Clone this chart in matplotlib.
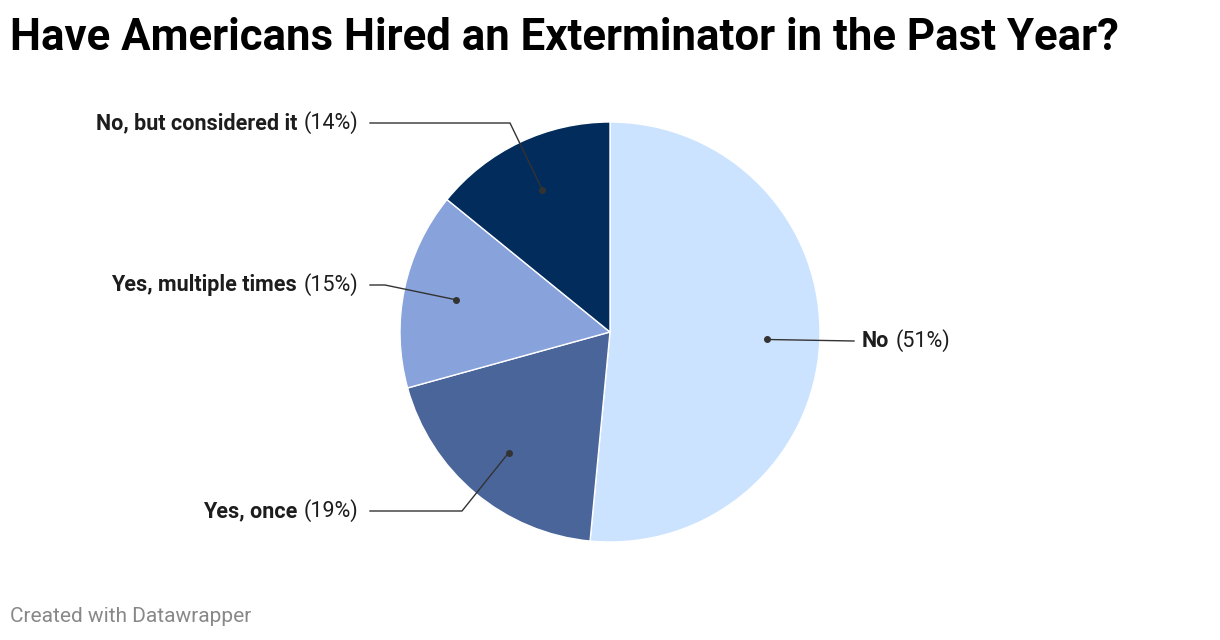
import matplotlib
matplotlib.use("Agg")
import matplotlib.pyplot as plt
import numpy as np

labels = ["No", "Yes, once", "Yes, multiple times", "No, but considered it"]
values = [51, 19, 15, 14]
colors = ["#cce3ff", "#4a6599", "#88a2db", "#012c5b"]

# label anchor points (pixel layout, y from top)
label_pos = [(862, 341), (358, 511), (358, 285), (358, 123)]
elbow = [None, (462, 511), (385, 285), (510, 123)]

plt.rcParams['font.family'] = ['Roboto', 'DejaVu Sans']
fig = plt.figure(figsize=(12.2, 6.4), dpi=100)
ax = fig.add_axes([0, 0, 1, 1])

H = 640
cx, cy, R = 610, H - 332, 210
ax.pie(values, colors=colors, startangle=90, counterclock=False,
       center=(cx, cy), radius=R, frame=True,
       wedgeprops=dict(edgecolor='white', linewidth=1))
ax.set_xlim(0, 1220)
ax.set_ylim(0, 640)
ax.set_aspect('equal')
ax.axis('off')

renderer = fig.canvas.get_renderer()
fs = 15.5
total = sum(values)
start = 90
for i, (lab, v) in enumerate(zip(labels, values)):
    mid = start - v / total * 360 / 2
    start -= v / total * 360
    r = 0.75 * R
    dx, dy = cx + r * np.cos(np.radians(mid)), cy + r * np.sin(np.radians(mid))
    ax.plot(dx, dy, 'o', color='#333333', ms=4, zorder=5)
    tx, ty = label_pos[i]
    pct = "(%d%%)" % v
    if elbow[i] is None:
        ax.plot([dx, tx - 8], [dy, H - ty], color='#333333', lw=1, zorder=4)
        t = ax.text(tx, H - ty, lab, fontsize=fs, fontweight='bold', color='#1d1d1d',
                    ha='left', va='center')
        w = t.get_window_extent(renderer).width
        ax.text(tx + w + 6, H - ty, pct, fontsize=fs, color='#1d1d1d',
                ha='left', va='center')
    else:
        ex, ey = elbow[i]
        ax.plot([dx, ex, tx + 12], [dy, H - ey, H - ty], color='#333333', lw=1, zorder=4)
        t = ax.text(tx, H - ty, pct, fontsize=fs, color='#1d1d1d',
                    ha='right', va='center')
        w = t.get_window_extent(renderer).width
        ax.text(tx - w - 6, H - ty, lab, fontsize=fs, fontweight='bold',
                color='#1d1d1d', ha='right', va='center')

fig.text(10 / 1220, 1 - 38 / 640, "Have Americans Hired an Exterminator in the Past Year?",
         fontsize=31.5, fontweight='bold', color='black', va='center', ha='left')
fig.text(10 / 1220, 1 - 616 / 640, "Created with Datawrapper", fontsize=15,
         color='#888888', va='center', ha='left')

fig.savefig("out.png", dpi=100, facecolor='white')
